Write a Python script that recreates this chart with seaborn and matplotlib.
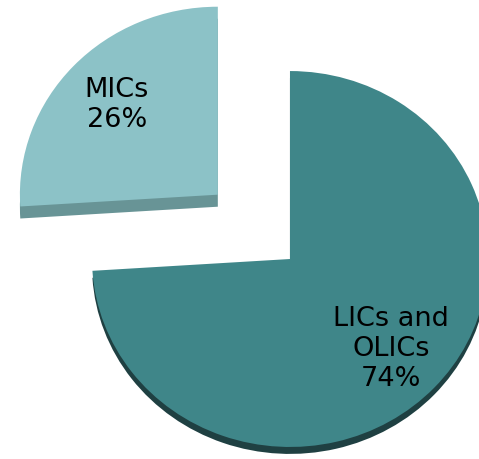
import seaborn as sns
import matplotlib.pyplot as plt

# pie data
labels = ['LICs and\nOLICs', 'MICs']
shares = [74, 26]
explode = [0, 0.5]
top_colors = ['#3f8689', '#8cc2c7']
side_colors = ['#1f4042', '#689496']
depths = [0.037, 0.064]

sns.set_style('white')
plt.rcParams['font.family'] = ['DejaVu Sans']

fig = plt.figure(figsize=(4.79, 4.59), dpi=100)
ax = fig.add_axes([0, 0, 1, 1])

# side of each slice (shifted down), then the top faces
for i in range(len(shares)):
    cols = ['none'] * len(shares)
    cols[i] = side_colors[i]
    ax.pie(shares, explode=explode, colors=cols, startangle=90,
           counterclock=False, center=(0, -depths[i]),
           wedgeprops={'linewidth': 0})
wedges, texts, autotexts = ax.pie(shares, explode=explode, colors=top_colors,
                                  startangle=90, counterclock=False,
                                  autopct='%1.0f%%', pctdistance=0.7,
                                  wedgeprops={'linewidth': 0},
                                  textprops={'fontsize': 19.5, 'color': 'black'})
for t, name in zip(autotexts, labels):
    t.set_text(name + '\n' + t.get_text())
    t.set_ha('center')
    t.set_va('center')

ax.set_aspect('auto')
ax.set_xlim(-1.465, 0.955)
ax.set_ylim(-1.064, 1.378)
ax.axis('off')

fig.savefig('out.png', dpi=100)
